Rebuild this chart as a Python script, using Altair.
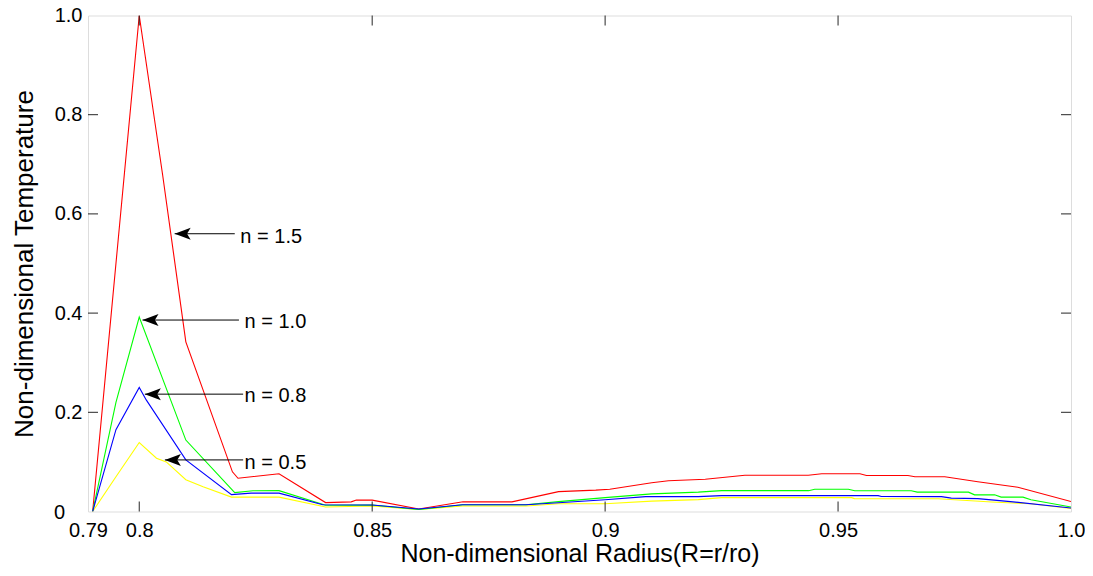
import altair as alt
import pandas as pd

# ---------------- data ----------------
red_r = [0.79, 0.795, 0.80, 0.805, 0.81, 0.82, 0.8212, 0.83, 0.84, 0.8455, 0.8466, 0.85, 0.86,
         0.8695, 0.88, 0.89, 0.898, 0.901, 0.91, 0.9136, 0.9215, 0.93, 0.9436, 0.9465, 0.9547,
         0.9561, 0.965, 0.9665, 0.9729, 0.98, 0.9886, 1.0]
red_t = [0.0, 0.5, 1.0, 0.68, 0.342, 0.08, 0.067, 0.076, 0.018, 0.0195, 0.023, 0.023, 0.005,
         0.0195, 0.0195, 0.040, 0.043, 0.045, 0.058, 0.062, 0.065, 0.073, 0.073, 0.076, 0.076,
         0.0725, 0.0725, 0.070, 0.070, 0.060, 0.049, 0.020]

green_r = [0.79, 0.795, 0.80, 0.81, 0.8205, 0.8244, 0.83, 0.84, 0.85, 0.86, 0.8694, 0.883, 0.89,
           0.90, 0.91, 0.92, 0.925, 0.9437, 0.945, 0.9522, 0.9536, 0.9657, 0.967, 0.978, 0.9793,
           0.9836, 0.985, 0.9897, 0.9914, 1.0]
green_t = [0.0, 0.22, 0.392, 0.144, 0.038, 0.0417, 0.042, 0.0125, 0.013, 0.004, 0.0135, 0.0135, 0.020,
           0.028, 0.0355, 0.039, 0.042, 0.042, 0.045, 0.045, 0.0417, 0.0417, 0.039, 0.039, 0.0336,
           0.0336, 0.029, 0.029, 0.0236, 0.009]

blue_r = [0.79, 0.795, 0.80, 0.8015, 0.81, 0.8198, 0.824, 0.83, 0.8394, 0.85, 0.86, 0.8694, 0.883,
          0.89, 0.90, 0.9087, 0.92, 0.925, 0.9586, 0.9593, 0.9722, 0.9743, 0.980, 0.987, 1.0]
blue_t = [0.0, 0.165, 0.25, 0.225, 0.104, 0.034, 0.037, 0.037, 0.0135, 0.013, 0.005, 0.0135, 0.0135,
          0.0175, 0.0236, 0.030, 0.030, 0.032, 0.032, 0.0302, 0.030, 0.027, 0.026, 0.020, 0.007]

yellow_r = [0.79, 0.795, 0.80, 0.8037, 0.8058, 0.81, 0.8137, 0.8198, 0.83, 0.84, 0.85, 0.86, 0.8694,
            0.883, 0.89, 0.90, 0.91, 0.92, 0.925, 0.9529, 0.9535, 0.9715, 0.975, 0.983, 0.9914, 1.0]
yellow_t = [0.0, 0.07, 0.139, 0.1075, 0.10, 0.064, 0.050, 0.029, 0.029, 0.009, 0.011, 0.004, 0.011,
            0.011, 0.0155, 0.0155, 0.021, 0.024, 0.028, 0.028, 0.026, 0.0256, 0.0236, 0.019, 0.0155, 0.006]

ann_labels = ["n = 1.5", "n = 1.0", "n = 0.8", "n = 0.5"]
ann_tip_r = [0.8076, 0.8007, 0.8012, 0.8055]
ann_tail_r = [0.8205, 0.8214, 0.8223, 0.8223]
ann_t = [0.560, 0.386, 0.2366, 0.104]
ann_text_r = [0.8217, 0.8226, 0.8226, 0.8226]
ann_text_t = [0.554, 0.383, 0.232, 0.098]

# first x tick sits at the axis origin and is labelled "0.79" (as in the reference)
x_ticks = [0.789, 0.8, 0.85, 0.9, 0.95, 1.0]
x_tick_labels = ["0.79", "0.8", "0.85", "0.9", "0.95", "1.0"]
y_ticks = [0.0, 0.2, 0.4, 0.6, 0.8, 1.0]
y_tick_labels = ["0", "0.2", "0.4", "0.6", "0.8", "1.0"]

# ---------------- chart ----------------
FONT = "Arial"
W, H = 983, 496
xscale = alt.Scale(domain=[0.789, 1.0], nice=False, zero=False)
yscale = alt.Scale(domain=[0.0, 1.0], nice=False, zero=False)


def label_expr(vals, labels):
    parts = [f"abs(datum.value - {v}) < 1e-6 ? '{l}'" for v, l in zip(vals, labels)]
    return " : ".join(parts) + " : ''"


xaxis = alt.Axis(values=x_ticks, labelExpr=label_expr(x_ticks, x_tick_labels), ticks=False, tickSize=0,
                 domain=False, grid=False, labelFontSize=20, labelFont=FONT, labelColor="black",
                 labelPadding=9, labelFlush=False, title="Non-dimensional Radius(R=r/ro)",
                 titleFontSize=25, titleFont=FONT, titleFontWeight="normal", titleColor="black",
                 titlePadding=1)
# the "0" y label sits further left in the reference; it is drawn as its own text mark below
yaxis = alt.Axis(values=y_ticks, labelExpr=label_expr(y_ticks[1:], y_tick_labels[1:]), ticks=False,
                 tickSize=0, domain=False, grid=False, labelFontSize=20, labelFont=FONT,
                 labelColor="black", labelPadding=6, labelFlush=False,
                 title="Non-dimensional Temperature", titleFontSize=26, titleFont=FONT,
                 titleFontWeight="normal", titleColor="black", titlePadding=17)

series = [
    (red_r, red_t, "#ff0000"),
    (yellow_r, yellow_t, "#ffff00"),
    (green_r, green_t, "#00ff00"),
    (blue_r, blue_t, "#0000ff"),
]

layers = []
for rs, ts, col in series:
    df = pd.DataFrame({"r": rs, "t": ts})
    layers.append(
        alt.Chart(df).mark_line(color=col, strokeWidth=1.1, clip=True).encode(
            x=alt.X("r:Q", scale=xscale, axis=xaxis),
            y=alt.Y("t:Q", scale=yscale, axis=yaxis),
            order="r:Q",
        )
    )

# inward tick marks (MATLAB style) on all four sides
xt = pd.DataFrame({"v": x_ticks[1:-1]})
yt = pd.DataFrame({"v": y_ticks[1:-1]})
TL = 10
tick_col = "#262626"
layers.append(alt.Chart(xt).mark_rule(color=tick_col, strokeWidth=1).encode(
    x=alt.X("v:Q", scale=xscale), y=alt.value(H), y2=alt.value(H - TL)))
layers.append(alt.Chart(xt).mark_rule(color=tick_col, strokeWidth=1).encode(
    x=alt.X("v:Q", scale=xscale), y=alt.value(0), y2=alt.value(TL)))
layers.append(alt.Chart(yt).mark_rule(color=tick_col, strokeWidth=1).encode(
    y=alt.Y("v:Q", scale=yscale), x=alt.value(0), x2=alt.value(TL)))
layers.append(alt.Chart(yt).mark_rule(color=tick_col, strokeWidth=1).encode(
    y=alt.Y("v:Q", scale=yscale), x=alt.value(W - TL), x2=alt.value(W)))

# the "0" tick label of the y axis
zero_lab = pd.DataFrame({"v": [y_ticks[0]], "label": [y_tick_labels[0]]})
layers.append(alt.Chart(zero_lab).mark_text(align="right", baseline="middle", fontSize=20, font=FONT,
                                            color="black", dy=1).encode(
    x=alt.value(-23), y=alt.Y("v:Q", scale=yscale), text="label:N"))

ann = pd.DataFrame({"label": ann_labels, "tip": ann_tip_r, "tail": ann_tail_r, "t": ann_t,
                    "tx": ann_text_r, "ty": ann_text_t})
arrow_path = "M0,0 L2,-0.75 L1.55,0 L2,0.75 Z"
layers.append(alt.Chart(ann).mark_rule(color="black", strokeWidth=1).encode(
    x=alt.X("tip:Q", scale=xscale), x2="tail:Q", y=alt.Y("t:Q", scale=yscale)))
layers.append(alt.Chart(ann).mark_point(shape=arrow_path, filled=True, color="black", size=256,
                                        opacity=1, strokeWidth=0).encode(
    x=alt.X("tip:Q", scale=xscale), y=alt.Y("t:Q", scale=yscale)))
layers.append(alt.Chart(ann).mark_text(align="left", baseline="middle", fontSize=20, font=FONT,
                                       color="black").encode(
    x=alt.X("tx:Q", scale=xscale), y=alt.Y("ty:Q", scale=yscale), text="label:N"))

chart = alt.layer(*layers).properties(
    width=W, height=H,
    padding={"left": 80, "top": 7.5, "right": 14, "bottom": 56},
    autosize=alt.AutoSizeParams(type="none"),
).configure_view(stroke="black", strokeWidth=1.5).configure(background="white")

chart.save("out.html", embed_options={"renderer": "svg", "actions": False})
